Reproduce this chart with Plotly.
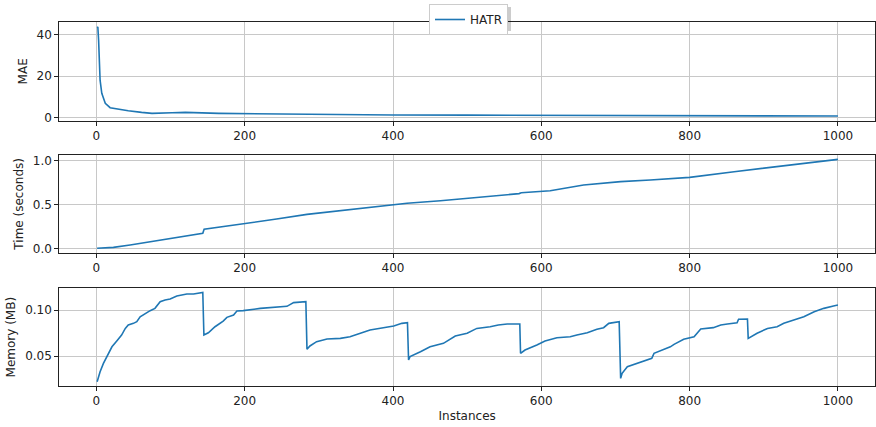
import plotly.graph_objects as go
from plotly.subplots import make_subplots

# ---- data ----
mae_instances = [1, 2, 3, 3.6, 5, 7.3, 12, 18.5, 30, 43, 61, 75, 102, 120, 165, 200, 255,
                 300, 400, 500, 600, 700, 800, 900, 1000]
mae_values = [43.9, 43.6, 37.4, 27.7, 18.0, 11.6, 6.8, 4.65, 3.9, 3.2, 2.4, 1.9, 2.2, 2.4, 1.9,
              1.75, 1.45, 1.3, 1.15, 1.05, 0.95, 0.85, 0.75, 0.68, 0.6]

time_instances = [1, 23, 45.5, 72.5, 108.5, 143.5, 145.3, 171, 200, 243, 284, 329, 383, 400, 419,
                  464, 504, 540, 570, 573, 612, 657, 690, 707, 747, 800, 860, 927, 1000]
time_seconds = [0.0, 0.011, 0.038, 0.075, 0.126, 0.171, 0.217, 0.247, 0.277, 0.334, 0.388, 0.429,
                0.483, 0.494, 0.514, 0.543, 0.571, 0.60, 0.625, 0.635, 0.658, 0.723, 0.75, 0.762,
                0.78, 0.81, 0.875, 0.94, 1.016]

mem_instances = [1, 5, 9.5, 14, 21, 27.5, 34, 39, 43, 50, 54.5, 59, 66, 72.5, 79, 86, 92.7, 99.5,
                 108.5, 122, 131, 143.5, 145, 151, 160, 171, 176, 185, 189.5, 198, 221, 243, 257,
                 266, 282.5, 284, 288, 297, 311, 329, 342, 356, 369, 387, 401, 412, 419.5, 421,
                 423, 437, 450, 468, 484, 500, 513, 531, 542, 554, 571, 572, 578, 594, 605, 621,
                 639, 648, 662, 675, 684, 691, 705, 707, 709, 716, 725, 738, 749, 752, 761, 774,
                 779, 792, 806, 815, 832, 842, 851, 864, 866, 878, 879, 891, 905, 918, 927, 941,
                 954, 968, 981, 994, 1000]
memory_mb = [0.0221, 0.033, 0.042, 0.0493, 0.060, 0.0663, 0.0728, 0.080, 0.0837, 0.0855, 0.0873,
             0.0927, 0.0964, 0.0993, 0.1018, 0.109, 0.1109, 0.112, 0.1152, 0.1174, 0.1174, 0.1192,
             0.0728, 0.0753, 0.0818, 0.088, 0.092, 0.0946, 0.0989, 0.0993, 0.1018, 0.1029, 0.1040,
             0.108, 0.109, 0.0573, 0.0609, 0.0656, 0.0685, 0.0692, 0.0710, 0.0747, 0.0783, 0.0808,
             0.0826, 0.0855, 0.0862, 0.0457, 0.0493, 0.0547, 0.060, 0.0638, 0.0717, 0.0747, 0.080,
             0.0818, 0.0837, 0.0848, 0.0848, 0.0529, 0.0565, 0.062, 0.0663, 0.0699, 0.071, 0.0728,
             0.0753, 0.079, 0.0808, 0.0855, 0.0873, 0.0257, 0.0312, 0.0384, 0.041, 0.0446, 0.0475,
             0.0529, 0.0560, 0.060, 0.0627, 0.0682, 0.071, 0.0793, 0.0808, 0.0837, 0.0848, 0.0862,
             0.0899, 0.0902, 0.0692, 0.0747, 0.080, 0.0818, 0.0855, 0.0891, 0.0927, 0.0982, 0.1018,
             0.1043, 0.1054]

series_name = "HATR"
x_ticks = [0, 200, 400, 600, 800, 1000]

LINE = "#1f77b4"
FONT = "DejaVu Sans"
W, H = 876.0, 427.0

fig = make_subplots(rows=3, cols=1, shared_xaxes=False)

fig.add_trace(go.Scatter(x=mae_instances, y=mae_values, mode="lines", name=series_name,
                         line=dict(color=LINE, width=1.6), showlegend=True), row=1, col=1)
fig.add_trace(go.Scatter(x=time_instances, y=time_seconds, mode="lines", name=series_name,
                         line=dict(color=LINE, width=1.6), showlegend=False), row=2, col=1)
fig.add_trace(go.Scatter(x=mem_instances, y=memory_mb, mode="lines", name=series_name,
                         line=dict(color=LINE, width=1.6), showlegend=False), row=3, col=1)

# panel pixel boxes (top, bottom) from the reference
boxes = [(22, 120.6), (155, 252.7), (288.3, 386)]
doms = [[(H - b) / H, (H - t) / H] for t, b in boxes]
xdom = [59.3 / W, 875 / W]
yranges = [[-1.6, 46.2], [-0.05, 1.066], [0.0174, 0.1236]]
ytitles = ["MAE", "Time (seconds)", "Memory (MB)"]
yticks = [[0, 20, 40], [0.0, 0.5, 1.0], [0.05, 0.10]]
yfmt = ["d", ".1f", ".2f"]

axis_common = dict(showline=True, linecolor="#222", linewidth=1, mirror=True,
                   ticks="outside", ticklen=4, tickwidth=1, tickcolor="#222",
                   showgrid=True, gridcolor="#c8c8c8", gridwidth=1, zeroline=False,
                   automargin=False,
                   tickfont=dict(family=FONT, size=12, color="#222"))

for i in range(3):
    xa = "xaxis" if i == 0 else f"xaxis{i+1}"
    ya = "yaxis" if i == 0 else f"yaxis{i+1}"
    fig.layout[xa].update(range=[-50, 1050], tickvals=x_ticks, domain=xdom, **axis_common)
    fig.layout[ya].update(range=yranges[i], domain=doms[i], tickvals=yticks[i],
                          tickformat=yfmt[i],
                          title=dict(text=ytitles[i], font=dict(family=FONT, size=12, color="#222"),
                                     standoff=6),
                          **axis_common)

fig.layout.xaxis3.title = dict(text="Instances", font=dict(family=FONT, size=12, color="#222"),
                               standoff=4)

# soft legend shadow (drawn behind the legend box)
fig.add_shape(type="rect", xref="paper", yref="paper",
              x0=431 / W, x1=511 / W, y0=(H - 31) / H, y1=(H - 7) / H,
              fillcolor="rgba(0,0,0,0.2)", line=dict(width=0), layer="above")

fig.update_layout(
    width=876, height=427,
    margin=dict(l=0, r=0, t=0, b=0),
    paper_bgcolor="white", plot_bgcolor="white",
    font=dict(family=FONT, size=12, color="#222"),
    legend=dict(x=468.5 / W, xanchor="center", y=(H - 4) / H, yanchor="top",
                bgcolor="white", bordercolor="#cccccc", borderwidth=1,
                font=dict(family=FONT, size=12, color="#222"), itemwidth=30),
)

fig.write_html("out.html", config={"displayModeBar": False},
               post_script="document.body.style.margin='0px';document.body.style.padding='0px';")
